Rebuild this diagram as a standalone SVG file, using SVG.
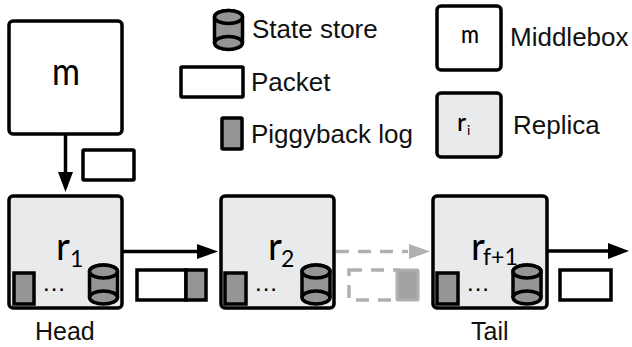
<svg xmlns="http://www.w3.org/2000/svg" width="632" height="347" viewBox="0 0 632 347">
<style>
.box{stroke:#000;stroke-width:3.500;fill:#fff}
.rep{stroke:#000;stroke-width:3.500;fill:#e9eaec}
.pkt{stroke:#000;stroke-width:3.500;fill:#fff}
.log{stroke:#000;stroke-width:3.500;fill:#959595}
.cyl{stroke:#000;stroke-width:3.500;fill:#959595}
.wire{stroke:#000;stroke-width:3.500;fill:none}
.dash{stroke:#b0b0b0;stroke-width:3.500;fill:none;stroke-dasharray:13 9}
.lbl{font-family:"Liberation Sans",Arial,sans-serif;font-size:26px;fill:#111}
.big{font-family:Lato,"Noto Sans",sans-serif;font-size:38px;fill:#000}
.sub{font-family:Lato,"Noto Sans",sans-serif;font-size:23px;fill:#000}
.dots{font-family:"Liberation Sans",Arial,sans-serif;font-size:24px;letter-spacing:1px;fill:#000}
</style>
<defs>
<g id="can">
<path class="cyl" d="M-14,-13V13A14,6.500 0 0 0 14,13V-13A14,6.500 0 0 0 -14,-13Z"/>
<ellipse class="cyl" cx="0" cy="-13" rx="14" ry="6.500"/>
<path class="wire" d="M-14,13A14,6.500 0 0 1 14,13"/>
</g>
</defs>
<g id="connectors">
<path class="wire" d="M65.500,134V175"/><polygon points="58,172 73,172 65.500,192"/>
<path class="wire" d="M122,251.500H200"/><polygon points="197,244 218,251.500 197,259"/>
<path class="dash" d="M336,251.500H408"/><polygon points="409,244 430,251.500 409,259" fill="#b0b0b0"/>
<path class="wire" d="M547,251H610"/><polygon points="608,243 629,251 608,259"/>
</g>
<g id="middlebox"><rect class="box" x="9" y="21" width="113" height="113" rx="4"/><text class="big" x="52" y="85" textLength="28" lengthAdjust="spacingAndGlyphs">m</text></g>
<g id="packet-top"><rect class="pkt" x="83" y="150" width="51" height="30" rx="1"/></g>
<g id="r1"><rect class="rep" x="9" y="196" width="113" height="112" rx="4"/>
<text class="big" x="56" y="260">r</text><text class="sub" x="70" y="267">1</text>
<rect class="log" x="14" y="273" width="20" height="31"/><text class="dots" x="43" y="291">...</text>
<use href="#can" x="103.500" y="284.500"/></g>
<g id="packet-r1"><rect class="pkt" x="137" y="270" width="49" height="30"/><rect class="log" x="186" y="270" width="20" height="30"/></g>
<g id="r2"><rect class="rep" x="221" y="196" width="113" height="112" rx="4"/>
<text class="big" x="268" y="260">r</text><text class="sub" x="281" y="267">2</text>
<rect class="log" x="225" y="273" width="21" height="31"/><text class="dots" x="255" y="291">...</text>
<use href="#can" x="316" y="284.500"/></g>
<g id="packet-ghost"><rect class="dash" x="349" y="270" width="50" height="30"/><rect x="397" y="270" width="21" height="30" rx="1" fill="#a3a3a3" stroke="#b0b0b0" stroke-width="3"/></g>
<g id="rf1"><rect class="rep" x="433" y="196" width="114" height="112" rx="4"/>
<text class="big" x="471" y="260">r</text><text class="sub" x="483" y="265" textLength="35" lengthAdjust="spacingAndGlyphs">f+1</text>
<rect class="log" x="437" y="273" width="21" height="31"/><text class="dots" x="467" y="291">...</text>
<use href="#can" x="527" y="284.500"/></g>
<g id="packet-tail"><rect class="pkt" x="560" y="270" width="51" height="30"/></g>
<text class="lbl" x="35" y="340" style="font-size:25px">Head</text>
<text class="lbl" x="471" y="340" style="font-size:25px">Tail</text>
<g id="legend-store"><use href="#can" x="228.500" y="30"/><text class="lbl" x="252" y="38">State store</text></g>
<g id="legend-packet"><rect class="pkt" x="181" y="67" width="62" height="30" rx="1"/><text class="lbl" x="251" y="91">Packet</text></g>
<g id="legend-log"><rect class="log" x="222" y="118" width="20" height="31" rx="1"/><text class="lbl" x="251" y="143">Piggyback log</text></g>
<g id="legend-middlebox"><rect class="box" x="437" y="6" width="64" height="64" rx="4"/><text x="461" y="43" textLength="18" lengthAdjust="spacingAndGlyphs" style="font-family:Lato,sans-serif;font-size:25px;font-weight:500">m</text><text class="lbl" x="510" y="46">Middlebox</text></g>
<g id="legend-replica"><rect class="rep" x="437" y="93" width="64" height="64" rx="4"/><text x="457" y="131" style="font-family:Lato,sans-serif;font-size:25px;font-weight:500">r</text><text x="467" y="135" style="font-family:Lato,sans-serif;font-size:14px">i</text><text class="lbl" x="513" y="134">Replica</text></g>
</svg>
